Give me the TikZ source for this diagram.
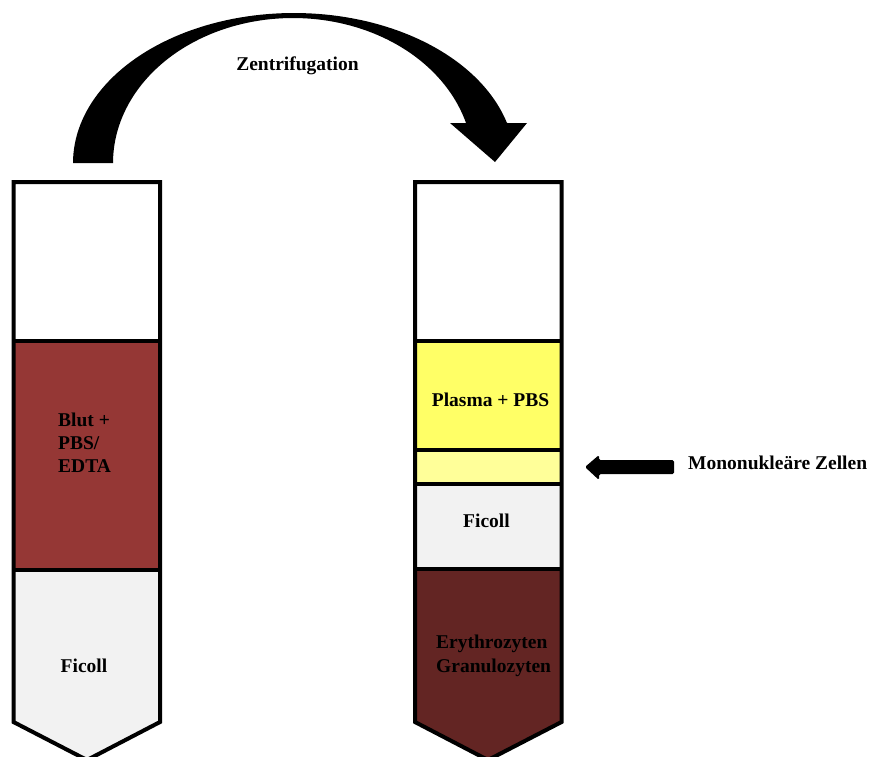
\documentclass[tikz,border=0pt]{standalone}
\usepackage{fontspec}
\setmainfont{Liberation Serif}
\definecolor{bloodred}{HTML}{953735}
\definecolor{sedimentred}{HTML}{632523}
\definecolor{ficollgray}{HTML}{F2F2F2}
\definecolor{plasmayellow}{HTML}{FFFF66}
\definecolor{pbmcyellow}{HTML}{FFFF99}
\begin{document}
\begin{tikzpicture}[x=1pt,y=-1pt,
  tube/.style={line width=4pt, line join=miter},
  divider/.style={line width=4pt},
  lbl/.style={font=\bfseries\fontsize{19.5}{23}\selectfont, inner sep=0pt, text=black, anchor=base},
  lblleft/.style={lbl, anchor=base west, align=left}]
\useasboundingbox (0,0) rectangle (869,756);
\fill[white] (0,0) rectangle (869,756);

% curved centrifugation arrow (band between two ellipses, with head)
\fill[black] plot[domain=180:15.47, samples=90] ({294+221*cos(\x)},{163-150*sin(\x)})
  -- (527,123) -- (495,162) -- (450,123)
  -- plot[domain=16:180, samples=90] ({293+180*cos(\x)},{163-145*sin(\x)}) -- cycle;
\node[lbl] (zentri) at (297.5,70) {Zentrifugation};

% left tube: before centrifugation
\fill[white] (13.5,182) rectangle (160,341);
\fill[bloodred] (13.5,341) rectangle (160,570);
\fill[ficollgray] (13.5,570) -- (160,570) -- (160,722) -- (87,760) -- (13.5,722) -- cycle;
\draw[tube] (13.5,182) -- (160,182) -- (160,722) -- (87,760) -- (13.5,722) -- cycle;
\draw[divider] (13.5,341) -- (160,341);
\draw[divider] (13.5,570) -- (160,570);
\node[lblleft] (blut1) at (58,426.5) {Blut +};
\node[lblleft] (blut2) at (58,449.5) {PBS/};
\node[lblleft] (blut3) at (58,472) {EDTA};
\node[lbl] (ficollA) at (84,672) {Ficoll};

% right tube: after centrifugation
\fill[white] (415,182) rectangle (561.5,341);
\fill[plasmayellow] (415,341) rectangle (561.5,450);
\fill[pbmcyellow] (415,450) rectangle (561.5,484);
\fill[ficollgray] (415,484) rectangle (561.5,569);
\fill[sedimentred] (415,569) -- (561.5,569) -- (561.5,722) -- (488,760) -- (415,722) -- cycle;
\draw[tube] (415,182) -- (561.5,182) -- (561.5,722) -- (488,760) -- (415,722) -- cycle;
\draw[divider] (415,341) -- (561.5,341);
\draw[divider] (415,450) -- (561.5,450);
\draw[divider] (415,484) -- (561.5,484);
\draw[divider] (415,569) -- (561.5,569);
\node[lbl] (plasmaT) at (490.5,406) {Plasma + PBS};
\node[lbl] (ficollB) at (486.5,527) {Ficoll};
\node[lblleft] (ery) at (436,648) {Erythrozyten};
\node[lblleft] (gran) at (436,672) {Granulozyten};

% pointer to the mononuclear cell layer
\node[lblleft] (mnz) at (688,469) {Mononukleäre Zellen};
\fill[black, rounded corners=1.5pt] (585,467) -- (599,455) -- (599,460) -- (674,460)
  -- (674,474) -- (599,474) -- (599,480) -- cycle;
\end{tikzpicture}
\end{document}
